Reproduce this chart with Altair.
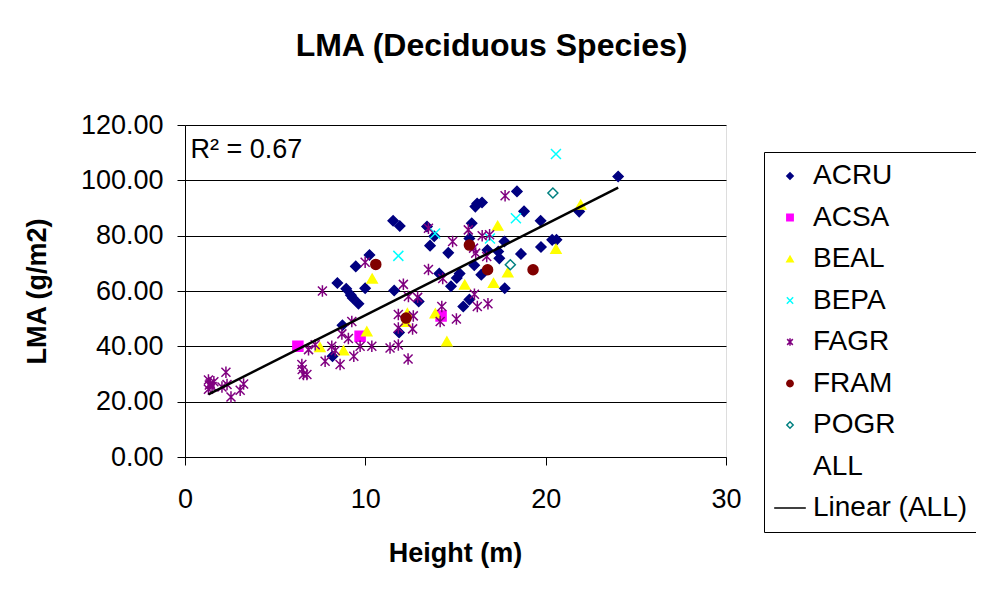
import altair as alt
import pandas as pd

# ---- data ----
acru_x = [8.18, 8.73, 8.45, 8.94, 9.2, 9.3, 9.62, 9.99, 9.47, 10.23, 11.54, 11.91, 11.6, 11.87, 12.96,
          13.42, 13.82, 13.59, 14.6, 14.1, 14.75, 15.07, 15.23, 15.43, 15.77, 15.9, 15.77, 16.04, 16.43,
          16.1, 16.2, 16.47, 16.77, 17.37, 17.43, 17.71, 17.73, 18.41, 18.8, 18.63, 19.72, 19.74, 20.36,
          20.6, 21.86, 24.02]
acru_y = [36.4, 47.6, 62.9, 60.8, 58.5, 57.5, 55.4, 61.0, 68.9, 73.0, 85.4, 83.5, 60.2, 45.0, 56.2,
          83.3, 79.8, 76.4, 73.8, 66.3, 61.7, 64.7, 66.3, 54.4, 56.9, 84.5, 79.0, 69.3, 65.9,
          90.5, 91.6, 92.0, 74.8, 74.3, 71.8, 77.9, 61.0, 96.0, 88.8, 73.4, 85.4, 75.9, 78.5,
          78.5, 88.7, 101.4]

acsa_x = [6.26, 9.71, 14.2]
acsa_y = [40.0, 43.6, 51.0]

beal_x = [7.48, 8.79, 10.08, 10.38, 12.33, 12.24, 13.88, 14.52, 15.51, 17.11, 17.34, 17.9, 20.57, 21.94]
beal_y = [39.7, 38.5, 45.4, 64.5, 52.0, 48.8, 51.9, 41.8, 62.3, 62.9, 83.6, 66.7, 75.2, 91.2]

bepa_x = [11.83, 13.87, 16.91, 18.35, 20.57]
bepa_y = [72.7, 80.8, 79.0, 86.3, 109.5]

fagr_x = [1.3, 1.4, 1.5, 1.3, 1.6, 1.35, 2.27, 2.33, 2.05, 2.55, 3.06, 3.25,
          6.48, 6.5, 6.57, 6.76, 6.85, 7.22, 7.62, 7.77, 8.14, 8.33, 8.6, 8.7, 9.06, 9.25, 9.36,
          9.71, 9.99, 10.36, 11.37, 11.83, 11.83, 11.83, 12.11, 12.39, 12.9, 12.37, 12.62, 12.66,
          13.5, 13.5, 14.29, 14.24, 14.15, 14.84, 15.05, 15.71, 16.0, 16.12, 16.48, 16.89, 16.73,
          16.05, 16.21, 16.8, 17.75]
fagr_y = [27.8, 26.5, 25.5, 24.5, 27.2, 26.0, 30.6, 26.2, 25.3, 21.7, 24.1, 26.4,
          33.4, 31.6, 29.8, 29.8, 38.8, 40.6, 60.0, 34.6, 40.0, 38.5, 33.4, 44.5, 42.8, 49.0, 36.4,
          40.0, 70.4, 40.0, 39.4, 40.5, 46.6, 51.5, 62.4, 58.0, 57.7, 35.4, 46.3, 51.0,
          82.7, 67.8, 64.5, 54.4, 49.0, 77.9, 49.9, 82.1, 75.5, 73.7, 80.0, 80.3, 72.5,
          58.8, 54.4, 55.4, 94.4]

fram_x = [10.58, 12.26, 15.77, 16.78, 19.3]
fram_y = [69.6, 50.2, 76.6, 67.7, 67.7]

pogr_x = [18.04, 20.4]
pogr_y = [69.5, 95.4]

series = {
    "ACRU": (acru_x, acru_y), "ACSA": (acsa_x, acsa_y), "BEAL": (beal_x, beal_y),
    "BEPA": (bepa_x, bepa_y), "FAGR": (fagr_x, fagr_y), "FRAM": (fram_x, fram_y),
    "POGR": (pogr_x, pogr_y),
}

legend_names = ["ACRU", "ACSA", "BEAL", "BEPA", "FAGR", "FRAM", "POGR", "ALL", "Linear (ALL)"]
fill_colors = ["#000080", "#FF00FF", "#FFFF00", "transparent", "transparent", "#800000", "#FFFFFF",
               "transparent", "transparent"]
stroke_colors = ["#000080", "#FF00FF", "#FFFF00", "#00FFFF", "#800080", "#800000", "#008080",
                 "transparent", "#000000"]
shapes = ["diamond", "square", "triangle-up",
          "M-1,-1L1,1M-1,1L1,-1",
          "M-0.9,-0.9L0.9,0.9M-0.9,0.9L0.9,-0.9M0,-1.15L0,1.15",
          "circle", "diamond", "circle", "M-5,0L5,0"]

rows = []
for name, (xs, ys) in series.items():
    for xv, yv in zip(xs, ys):
        rows.append({"species": name, "height": xv, "lma": yv})
df = pd.DataFrame(rows)

FONT = "Liberation Sans"

leg = alt.Legend(
    title=None, orient="none", legendX=579, legendY=27,
    labelFontSize=28, labelFont=FONT, labelColor="black",
    symbolSize=40, symbolStrokeWidth=1.5, symbolOffset=2, labelOffset=9,
    rowPadding=13.5, padding=10, strokeColor="black", fillColor="white",
    labelLimit=400,
)

xscale = alt.Scale(domain=[0, 30], nice=False, zero=True)
yscale = alt.Scale(domain=[0, 120], nice=False)

xaxis = alt.Axis(values=[0, 10, 20, 30], grid=False, tickSize=8, tickColor="black",
                 domainColor="black", labelFontSize=27, labelFont=FONT, labelColor="black",
                 labelFlush=False, labelBaseline="middle", labelPadding=34,
                 title="Height (m)", titleFontSize=27, titleFont=FONT, titleFontWeight="bold",
                 titleColor="black", titleX=270, titleY=96, titleBaseline="middle",
                 titleAlign="center")
yaxis = alt.Axis(values=[0, 20, 40, 60, 80, 100, 120], format=".2f", grid=True,
                 gridColor="black", gridWidth=1, tickSize=8, tickColor="black",
                 domainColor="black", labelFontSize=27, labelFont=FONT, labelColor="black",
                 labelFlush=False, labelPadding=14,
                 title="LMA (g/m2)", titleFontSize=27, titleFont=FONT, titleFontWeight="bold",
                 titleColor="black", titleX=-148, titleY=166, titleAngle=270,
                 titleBaseline="middle", titleAlign="center")

points = alt.Chart(df).mark_point(size=100, strokeWidth=1.5, opacity=1).encode(
    x=alt.X("height:Q", scale=xscale, axis=xaxis),
    y=alt.Y("lma:Q", scale=yscale, axis=yaxis),
    fill=alt.Fill("species:N", scale=alt.Scale(domain=legend_names, range=fill_colors), legend=leg),
    stroke=alt.Stroke("species:N", scale=alt.Scale(domain=legend_names, range=stroke_colors), legend=leg),
    shape=alt.Shape("species:N", scale=alt.Scale(domain=legend_names, range=shapes), legend=leg),
)

trend = alt.Chart(df).transform_regression("height", "lma").mark_line(
    color="black", strokeWidth=2.5
).encode(x="height:Q", y="lma:Q")

r2 = alt.Chart(pd.DataFrame({"a": [0]})).mark_text(
    align="left", baseline="middle", fontSize=27, font=FONT, color="black"
).encode(x=alt.datum(0.3), y=alt.datum(111), text=alt.value("R² = 0.67"))

chart = alt.layer(points, trend, r2).properties(
    width=541, height=332,
    title=alt.TitleParams("LMA (Deciduous Species)", fontSize=32, fontWeight="bold", font=FONT,
                          color="black", anchor="middle", dx=36, offset=48),
    autosize=alt.AutoSizeParams(type="none"),
    padding={"left": 177, "top": 117, "right": 250, "bottom": 131},
).configure_view(
    fill="#C0C0C0", stroke="#808080", strokeWidth=1
).configure(background="white")

chart.save("out.html", embed_options={"renderer": "svg", "actions": False})
